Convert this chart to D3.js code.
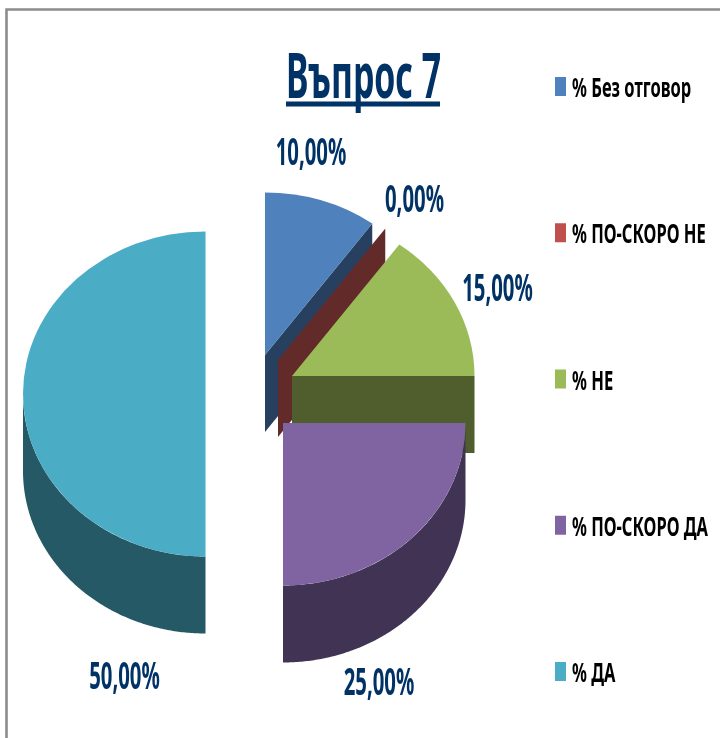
<!DOCTYPE html>
<html><head><meta charset="utf-8">
<script src="https://cdn.jsdelivr.net/npm/d3@7"></script>
<style>html,body{margin:0;padding:0;background:#fff}svg{display:block}text{font-family:"Noto Sans",sans-serif;font-weight:700}</style>
</head><body><div id="c"></div>
<script>
const categories = ["% Без отговор", "% ПО-СКОРО НЕ", "% НЕ", "% ПО-СКОРО ДА", "% ДА"];
const values = [10, 0, 15, 25, 50];
const topColors = ["#4f81bd", "#c0504d", "#9bbb59", "#8064a2", "#4bacc6"];
const wallColors = ["#28405f", "#632a2a", "#505e2e", "#413353", "#265966"];
const titleText = "Въпрос 7";

// layout (exploded slice apexes and label anchors)
const apexes = [[265,355],[278,360],[292,376],[283,423],[205.5,394]];
const labelAnchors = [[311,165],[414.5,212],[497.5,301],[379,695],[124.5,689]];
const rx = 182.5, ry = 162.5, depth = 77;
const W = 720, H = 738;

const svg = d3.select("#c").append("svg").attr("width",W).attr("height",H);
const defs = svg.append("defs");
defs.append("filter").attr("id","soft").append("feGaussianBlur").attr("stdDeviation",0.45);

svg.append("path").attr("d",d3.line()([[6.5,H],[6.5,9.5],[W,9.5]]))
  .attr("fill","none").attr("stroke","#8c8c8c").attr("stroke-width",2.6);

const pie = d3.pie().sort(null).value(d=>d)(values);
const pt = (c,a,dy=0)=>[c[0]+rx*Math.sin(a), c[1]-ry*Math.cos(a)+dy];
const line = d3.line();
const arc = d3.arc().innerRadius(0).outerRadius(1);

const order = [0,1,2,4,3];
order.forEach(i=>{
  const p = pie[i], c = apexes[i];
  const g = svg.append("g");
  // radial end face, visible only when it faces the viewer
  if (p.endAngle < Math.PI) {
    const e = pt(c,p.endAngle);
    g.append("path").attr("fill",wallColors[i])
      .attr("d",line([c,e,[e[0],e[1]+depth],[c[0],c[1]+depth]])+"Z");
  }
  // outer curved wall on the front half
  const a0 = Math.max(p.startAngle,Math.PI/2), a1 = Math.min(p.endAngle,3*Math.PI/2);
  if (a1 > a0) {
    const angles = d3.range(a0,a1,0.01).concat([a1]);
    const upper = angles.map(a=>pt(c,a));
    const lower = angles.map(a=>pt(c,a,depth)).reverse();
    g.append("path").attr("fill",wallColors[i]).attr("d",line(upper.concat(lower))+"Z");
  }
  // top surface
  if (p.endAngle > p.startAngle) {
    g.append("path").attr("fill",topColors[i])
      .attr("transform",`translate(${c[0]},${c[1]}) scale(${rx},${ry})`)
      .attr("d",arc(p));
  }
});

function label(x,y,str,size,sx,fill,anchor){
  return svg.append("text").attr("transform",`translate(${x},${y}) scale(${sx},1)`)
    .attr("font-size",size).attr("fill",fill).attr("text-anchor",anchor)
    .attr("filter","url(#soft)").text(str);
}

// title
label(363.5,98,titleText,62,0.545,"#003366","middle");
svg.append("rect").attr("x",286).attr("y",101.5).attr("width",154).attr("height",5).attr("fill","#003366");

// data labels
values.forEach((v,i)=>{
  label(labelAnchors[i][0],labelAnchors[i][1],v.toFixed(2).replace(".",",")+"%",37,0.55,"#003366","middle");
});

// legend
const ly = d3.scalePoint().domain(categories).range([86.5,671.5]);
categories.forEach((t,i)=>{
  svg.append("rect").attr("x",555).attr("y",ly(t)-9.5).attr("width",11).attr("height",19).attr("fill",topColors[i]);
  label(572,ly(t)+10.5,t,26,0.635,"#000","start");
});
</script></body></html>
